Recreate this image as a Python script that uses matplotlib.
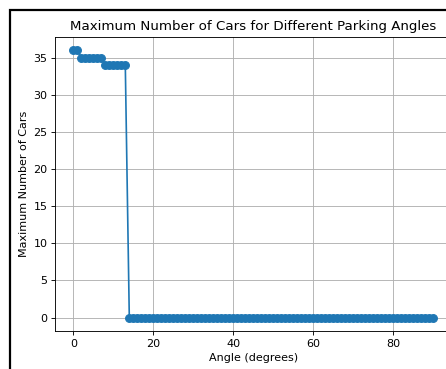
import matplotlib.pyplot as plt
from matplotlib.patches import Rectangle

# angles 0..90 and the max number of cars at each
angles = list(range(0, 91))
max_cars = [36, 36] + [35] * 6 + [34] * 6 + [0] * 77

DPI = 80
fig = plt.figure(figsize=(446 / DPI, 369 / DPI), dpi=DPI)

# black frame of the (cropped) figure
fig.patches.append(Rectangle((10 / 446, -0.1), 1.2, (369 - 10) / 369 + 0.1,
                             transform=fig.transFigure, fill=False,
                             edgecolor='black', linewidth=2))

ax = fig.add_axes([55.3 / 446, 38 / 369, 396 / 446, 294.1 / 369])
ax.plot(angles, max_cars, marker='o', markersize=7, color='#1f77b4')
ax.set_title("Maximum Number of Cars for Different Parking Angles")
ax.set_xlabel("Angle (degrees)")
ax.set_ylabel("Maximum Number of Cars")
ax.grid(True)

fig.savefig("out.png", dpi=DPI)
